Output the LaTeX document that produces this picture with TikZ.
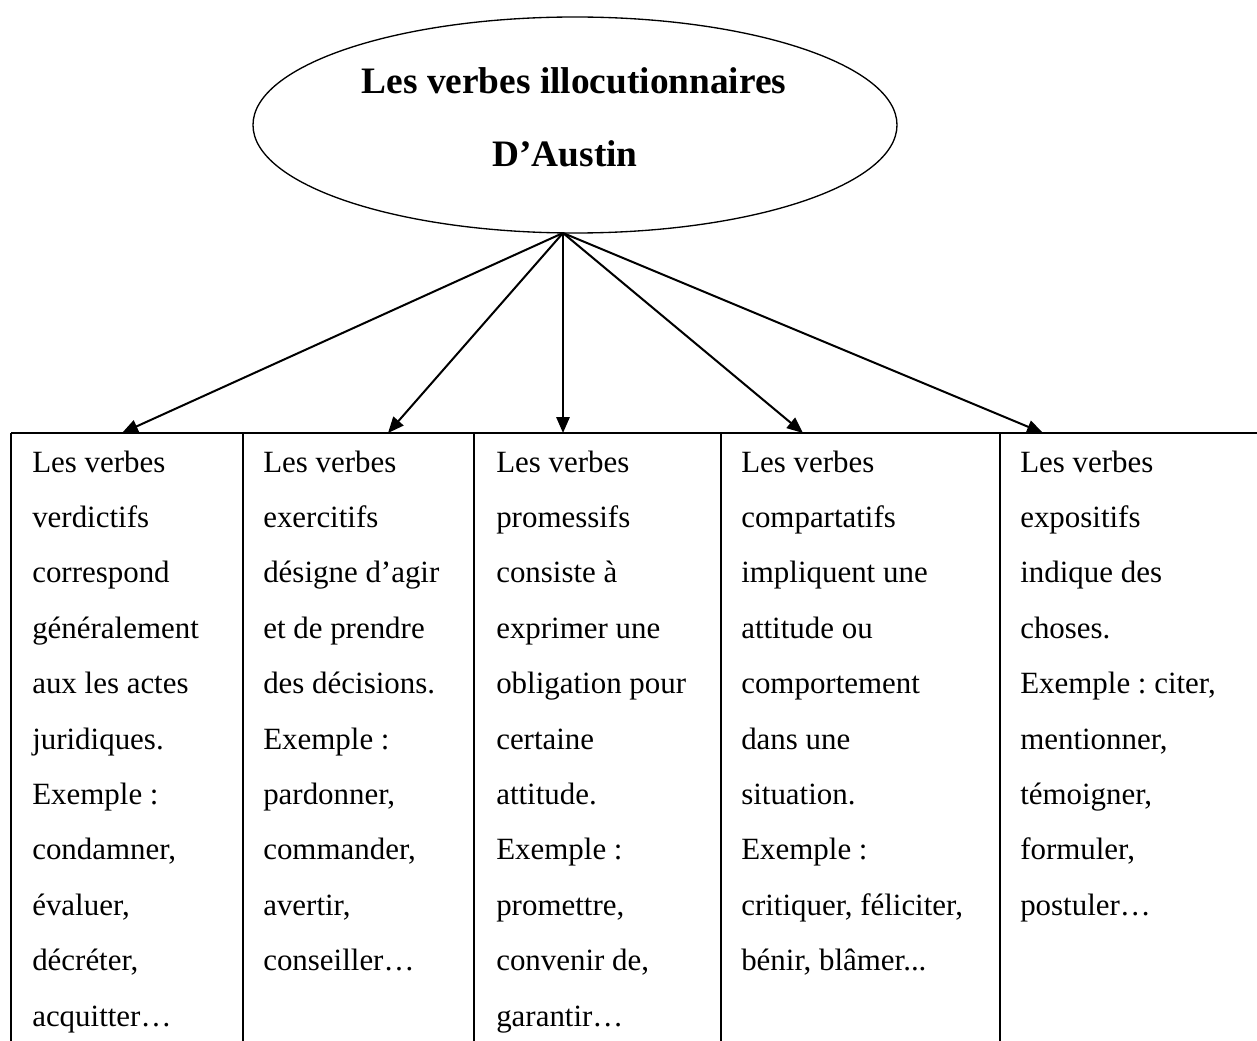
\documentclass[tikz,border=0pt]{standalone}
\usepackage{fontspec}
\setmainfont{Liberation Serif}
\usetikzlibrary{arrows.meta,shapes.geometric}
\frenchspacing

\tikzset{
  titre/.style={ellipse, draw, line width=1pt, minimum width=483pt, minimum height=162pt, inner sep=0pt},
  titretexte/.style={anchor=base, inner sep=0pt, font=\bfseries\fontsize{28}{34}\selectfont},
  corps/.style={anchor=base west, inner sep=0pt, font=\fontsize{23.2}{28}\selectfont},
  fleche/.style={line width=1.5pt, -{Triangle[length=12pt,width=10pt]}},
  trait/.style={line width=1.3pt}
}

\begin{document}
\begin{tikzpicture}[x=0.75pt, y=-0.75pt]
    \useasboundingbox (0,0) rectangle (1257,1041);

    % 1. ELLIPSE DU TITRE
    \node[titre] (titre) at (575,125) {};
    \node[titretexte] (titre-l1) at (574,94) {Les verbes illocutionnaires};
    \node[titretexte] (titre-l2) at (565,167) {D’Austin};

    % 2. POINTS DE DEPART ET D'ARRIVEE DES FLECHES
    \coordinate (hub) at (563,233);
    \coordinate (tip1) at (122,433);
    \coordinate (tip2) at (388,433);
    \coordinate (tip3) at (563,433);
    \coordinate (tip4) at (803,433);
    \coordinate (tip5) at (1043,433);

    % 3. TABLEAU (ligne du haut + colonnes, sans bord droit ni bas)
    \draw[trait] (11,433) -- (1257,433);
    \foreach \x in {11, 243, 474, 721, 1000} {
        \draw[trait] (\x,433) -- (\x,1041);
    }

    % 4. FLECHES
    \foreach \c in {1,2,3,4,5} {
        \draw[fleche] (hub) -- (tip\c);
    }

    % 5. TEXTE DES COLONNES (une ligne par noeud)
    \foreach \ligne [count=\i] in {Les verbes, verdictifs, correspond, généralement, aux les actes, juridiques., Exemple :, {condamner,}, {évaluer,}, {décréter,}, acquitter…} {
        \node[corps] (verdictifs-\i) at (32, {472+55.4*(\i-1)}) {\ligne};
    }
    \foreach \ligne [count=\i] in {Les verbes, exercitifs, désigne d’agir, et de prendre, des décisions., Exemple :, {pardonner,}, {commander,}, {avertir,}, conseiller…} {
        \node[corps] (exercitifs-\i) at (263, {472+55.4*(\i-1)}) {\ligne};
    }
    \foreach \ligne [count=\i] in {Les verbes, promessifs, consiste à, exprimer une, obligation pour, certaine, attitude., Exemple :, {promettre,}, {convenir de,}, garantir…} {
        \node[corps] (promessifs-\i) at (496, {472+55.4*(\i-1)}) {\ligne};
    }
    \foreach \ligne [count=\i] in {Les verbes, compartatifs, impliquent une, attitude ou, comportement, dans une, situation., Exemple :, {critiquer, féliciter,}, {bénir, blâmer.\kern0pt.\kern0pt.}} {
        \node[corps] (compartatifs-\i) at (741, {472+55.4*(\i-1)}) {\ligne};
    }
    \foreach \ligne [count=\i] in {Les verbes, expositifs, indique des, choses., {Exemple : citer,}, {mentionner,}, {témoigner,}, {formuler,}, postuler…} {
        \node[corps] (expositifs-\i) at (1020, {472+55.4*(\i-1)}) {\ligne};
    }

\end{tikzpicture}
\end{document}
